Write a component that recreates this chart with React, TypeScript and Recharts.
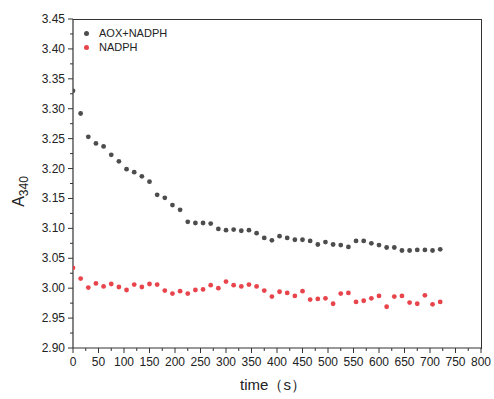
import { ScatterChart, Scatter, XAxis, YAxis, Label } from 'recharts';

const times = [
  0, 15, 30, 45, 60, 75, 90, 105, 120, 135, 150, 165, 180, 195, 210, 225, 240,
  255, 270, 285, 300, 315, 330, 345, 360, 375, 390, 405, 420, 435, 450, 465, 480,
  495, 510, 525, 540, 555, 570, 585, 600, 615, 630, 645, 660, 675, 690, 705, 720,
];

const aoxNadph = [
  3.330, 3.292, 3.253, 3.242, 3.237, 3.223, 3.212, 3.199, 3.194, 3.187, 3.178,
  3.156, 3.151, 3.139, 3.131, 3.111, 3.109, 3.109, 3.108, 3.099, 3.097, 3.098,
  3.096, 3.097, 3.092, 3.084, 3.080, 3.087, 3.084, 3.081, 3.081, 3.079, 3.073,
  3.077, 3.073, 3.072, 3.069, 3.079, 3.079, 3.075, 3.072, 3.068, 3.068, 3.063,
  3.063, 3.064, 3.064, 3.063, 3.065,
];

const nadph = [
  3.034, 3.016, 3.001, 3.008, 3.003, 3.007, 3.002, 2.997, 3.006, 3.002, 3.007,
  3.006, 2.996, 2.991, 2.995, 2.991, 2.997, 2.998, 3.005, 3.000, 3.011, 3.005,
  3.003, 3.006, 3.003, 2.996, 2.986, 2.994, 2.992, 2.987, 2.995, 2.981, 2.982,
  2.983, 2.974, 2.991, 2.992, 2.977, 2.979, 2.983, 2.987, 2.969, 2.986, 2.987,
  2.976, 2.974, 2.988, 2.973, 2.977,
];

const xTicks = [
  0, 25, 50, 75, 100, 125, 150, 175, 200, 225, 250, 275, 300, 325, 350, 375, 400,
  425, 450, 475, 500, 525, 550, 575, 600, 625, 650, 675, 700, 725, 750, 775, 800,
];

const yTicks = [
  2.9, 2.925, 2.95, 2.975, 3.0, 3.025, 3.05, 3.075, 3.1, 3.125, 3.15, 3.175, 3.2,
  3.225, 3.25, 3.275, 3.3, 3.325, 3.35, 3.375, 3.4, 3.425, 3.45,
];

const series = [
  { name: 'AOX+NADPH', values: aoxNadph, color: '#4d4d4d' },
  { name: 'NADPH', values: nadph, color: '#e8444c' },
];

const FONT = '"Liberation Sans", Arial, sans-serif';
const AXIS = '#333';

// layout shared by the chart and the frame overlay
const W = 494;
const H = 399;
const MARGIN = { top: 19, right: 13, bottom: 0, left: 0 };
const Y_AXIS_W = 73;
const X_AXIS_H = 51;

const toPoints = (values: number[]) => times.map((t, i) => ({ t, v: values[i] }));

const isMajorX = (v: number) => Math.round(v) % 50 === 0;
const isMajorY = (v: number) => Math.round(v * 1000) % 50 === 0;

function XTick(props: any) {
  const { x, y, payload } = props;
  const major = isMajorX(payload.value);
  return (
    <g>
      <line x1={x} x2={x} y1={y} y2={y + (major ? 5 : 3)} stroke={AXIS} strokeWidth={1} />
      {major && (
        <text x={x} y={y + 18} textAnchor="middle" fontSize={12} fill="#222" fontFamily={FONT}>
          {payload.value}
        </text>
      )}
    </g>
  );
}

function YTick(props: any) {
  const { x, y, payload } = props;
  const major = isMajorY(payload.value);
  return (
    <g>
      <line x1={x} x2={x - (major ? 5 : 3)} y1={y} y2={y} stroke={AXIS} strokeWidth={1} />
      {major && (
        <text x={x - 8} y={y + 4} textAnchor="end" fontSize={12} fill="#222" fontFamily={FONT}>
          {payload.value.toFixed(2)}
        </text>
      )}
    </g>
  );
}

function Dot(color: string) {
  return (props: any) => <circle cx={props.cx} cy={props.cy} r={2.4} fill={color} />;
}

function LegendBox() {
  return (
    <div
      style={{
        position: 'absolute',
        left: 84,
        top: 26,
        fontFamily: FONT,
        fontSize: 11,
        color: '#222',
        lineHeight: '14px',
      }}
    >
      {series.map((s) => (
        <div key={s.name} style={{ display: 'flex', alignItems: 'center' }}>
          <span
            style={{
              display: 'inline-block',
              width: 5,
              height: 5,
              borderRadius: '50%',
              background: s.color,
              marginRight: 10,
            }}
          />
          {s.name}
        </div>
      ))}
    </div>
  );
}

// top and right edges of the plot box
function Frame() {
  const left = MARGIN.left + Y_AXIS_W;
  const top = MARGIN.top;
  const right = W - MARGIN.right;
  const bottom = H - MARGIN.bottom - X_AXIS_H;
  return (
    <div
      style={{
        position: 'absolute',
        left,
        top: top - 0.5,
        width: right - left - 0.5,
        height: bottom - top,
        borderTop: `1px solid ${AXIS}`,
        borderRight: `1px solid ${AXIS}`,
        pointerEvents: 'none',
      }}
    />
  );
}

export default function App() {
  return (
    <div style={{ position: 'absolute', left: 0, top: 0, width: W, height: H, background: '#fff' }}>
      <ScatterChart width={W} height={H} margin={MARGIN}>
        <XAxis
          type="number"
          dataKey="t"
          domain={[0, 800]}
          ticks={xTicks}
          interval={0}
          tick={<XTick />}
          tickLine={false}
          tickSize={0}
          tickMargin={0}
          height={X_AXIS_H}
          axisLine={{ stroke: AXIS, strokeWidth: 1.2 }}
          allowDataOverflow
        >
          <Label
            content={(p: any) => (
              <text
                x={p.viewBox.x + p.viewBox.width / 2 - 4}
                y={p.viewBox.y + 42}
                textAnchor="middle"
                fontSize={15}
                fill="#222"
                fontFamily={FONT}
              >
                time（s）
              </text>
            )}
          />
        </XAxis>
        <YAxis
          type="number"
          dataKey="v"
          domain={[2.9, 3.45]}
          ticks={yTicks}
          interval={0}
          tick={<YTick />}
          tickLine={false}
          tickSize={0}
          tickMargin={0}
          width={Y_AXIS_W}
          axisLine={{ stroke: AXIS, strokeWidth: 1.2 }}
          allowDataOverflow
        >
          <Label
            content={(p: any) => {
              const cx = p.viewBox.x + 24;
              const cy = p.viewBox.y + p.viewBox.height / 2 + 8;
              return (
                <text
                  x={cx}
                  y={cy}
                  transform={`rotate(-90, ${cx}, ${cy})`}
                  textAnchor="middle"
                  fontSize={16}
                  fill="#222"
                  fontFamily={FONT}
                >
                  A
                  <tspan fontSize={12} dy={4}>
                    340
                  </tspan>
                </text>
              );
            }}
          />
        </YAxis>
        {series.map((s) => (
          <Scatter
            key={s.name}
            name={s.name}
            data={toPoints(s.values)}
            fill={s.color}
            shape={Dot(s.color)}
            isAnimationActive={false}
          />
        ))}
      </ScatterChart>
      <Frame />
      <LegendBox />
    </div>
  );
}
